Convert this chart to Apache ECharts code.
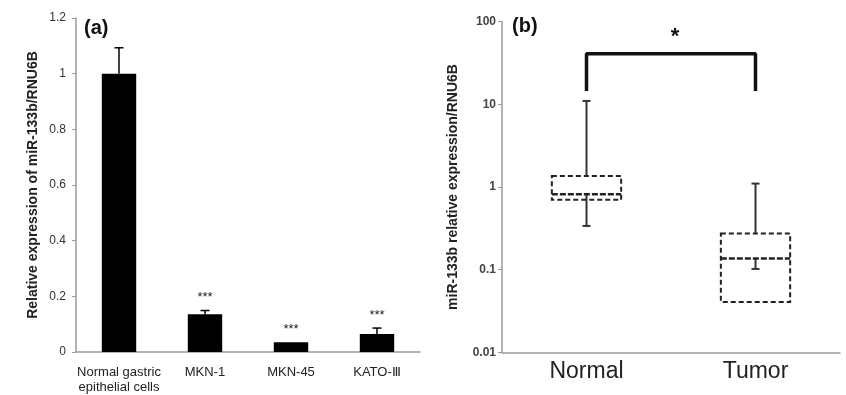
<!DOCTYPE html>
<html>
<head>
<meta charset="utf-8">
<script src="https://cdn.jsdelivr.net/npm/echarts@6/dist/echarts.min.js"></script>
<style>
  html, body { margin: 0; padding: 0; background: #fff; }
  #chart { width: 846px; height: 395px; }
</style>
</head>
<body>
<div id="chart"></div>
<script>
// panel (a): cell lines
const cellLines = ['Normal gastric\nepithelial cells', 'MKN-1', 'MKN-45', 'KATO-Ⅲ'];
const expression = [1.0, 0.136, 0.035, 0.065];
const errors = [0.093, 0.013, 0, 0.021];
const stars = ['', '***', '***', '***'];

// panel (b): tissue, [min, q1, median, q3, max]
const groups = ['Normal', 'Tumor'];
const boxStats = [
    [0.338, 0.70, 0.816, 1.36, 11],
    [0.102, 0.0407, 0.136, 0.273, 1.10]
];
const bracket = [['Normal', 14.5], ['Normal', 41], ['Tumor', 41], ['Tumor', 14.5]];
const bracketStar = 74;

const axisGray = '#9a9a9a';
const textDark = '#222';

const chart = echarts.init(document.getElementById('chart'));

const errorData = expression.map((v, i) => [i, v, errors[i]]);
const boxData = boxStats.map((s, i) => [i].concat(s));

const option = {
    animation: false,
    textStyle: { fontFamily: 'Liberation Sans, Arial, sans-serif' },
    grid: [
        { left: 76, top: 18, width: 344, height: 336 },
        { left: 502, top: 21.7, width: 338, height: 330.6 }
    ],
    xAxis: [
        {
            type: 'category',
            gridIndex: 0,
            data: cellLines,
            axisLine: { lineStyle: { color: axisGray, width: 1.5 } },
            axisTick: { show: false },
            axisLabel: { color: textDark, fontSize: 13, margin: 13, lineHeight: 15, interval: 0 }
        },
        {
            type: 'category',
            gridIndex: 1,
            data: groups,
            axisLine: { lineStyle: { color: axisGray, width: 1.5 } },
            axisTick: { show: false },
            axisLabel: { color: textDark, fontSize: 23, margin: 8 }
        }
    ],
    yAxis: [
        {
            type: 'value',
            gridIndex: 0,
            min: 0,
            max: 1.2,
            interval: 0.2,
            name: 'Relative expression of miR-133b/RNU6B',
            nameLocation: 'middle',
            nameGap: 36,
            nameTextStyle: { fontSize: 14, fontWeight: 'bold', color: textDark },
            axisLine: { show: true, lineStyle: { color: axisGray, width: 1.5 } },
            axisTick: { show: true, length: 4, lineStyle: { color: axisGray } },
            axisLabel: { color: '#333', fontSize: 12, margin: 10 },
            splitLine: { show: false }
        },
        {
            type: 'log',
            gridIndex: 1,
            logBase: 10,
            min: 0.01,
            max: 100,
            name: 'miR-133b relative expression/RNU6B',
            nameLocation: 'middle',
            nameGap: 42,
            nameTextStyle: { fontSize: 14, fontWeight: 'bold', color: textDark },
            axisLine: { show: true, lineStyle: { color: axisGray, width: 1.5 } },
            axisTick: { show: true, length: 4, lineStyle: { color: axisGray } },
            axisLabel: { color: '#444', fontSize: 12, margin: 6, fontWeight: 'bold' },
            splitLine: { show: false }
        }
    ],
    graphic: [
        { type: 'text', left: 84, top: 18, style: { text: '(a)', font: 'bold 20px Liberation Sans, Arial', fill: '#111' } },
        { type: 'text', left: 512, top: 16, style: { text: '(b)', font: 'bold 20px Liberation Sans, Arial', fill: '#111' } }
    ],
    series: [
        {
            type: 'bar',
            xAxisIndex: 0,
            yAxisIndex: 0,
            data: expression,
            barWidth: '40%',
            itemStyle: { color: '#000' }
        },
        {
            // error bars and significance stars
            type: 'custom',
            xAxisIndex: 0,
            yAxisIndex: 0,
            data: errorData,
            z: 3,
            renderItem: function (params, api) {
                const x = api.value(0);
                const v = api.value(1);
                const e = api.value(2);
                const base = api.coord([x, v]);
                const top = api.coord([x, v + e]);
                const children = [];
                if (e > 0) {
                    children.push({
                        type: 'line',
                        shape: { x1: base[0], y1: base[1], x2: top[0], y2: top[1] },
                        style: { stroke: '#000', lineWidth: 1.5 }
                    });
                    children.push({
                        type: 'line',
                        shape: { x1: top[0] - 4.5, y1: top[1], x2: top[0] + 4.5, y2: top[1] },
                        style: { stroke: '#000', lineWidth: 1.5 }
                    });
                }
                const label = stars[params.dataIndex];
                if (label) {
                    children.push({
                        type: 'text',
                        x: top[0],
                        y: top[1] - 13,
                        style: {
                            text: label, fill: '#222', font: '13px Liberation Sans, Arial',
                            align: 'center', verticalAlign: 'middle'
                        }
                    });
                }
                return { type: 'group', children: children };
            }
        },
        {
            // box: dashed Q1-Q3 box, whiskers Q3->max and median->min
            type: 'custom',
            xAxisIndex: 1,
            yAxisIndex: 1,
            data: boxData,
            renderItem: function (params, api) {
                const i = api.value(0);
                const pMin = api.coord([i, api.value(1)]);
                const pQ1 = api.coord([i, api.value(2)]);
                const pMed = api.coord([i, api.value(3)]);
                const pQ3 = api.coord([i, api.value(4)]);
                const pMax = api.coord([i, api.value(5)]);
                const w = api.size([1, 0])[0] * 0.41;
                const x = pMed[0];
                const dash = { stroke: '#222', lineWidth: 2, lineDash: [5, 3], fill: null };
                const solid = { stroke: '#333', lineWidth: 2 };
                const cap = 4;
                return {
                    type: 'group',
                    children: [
                        { type: 'line', shape: { x1: x, y1: pQ3[1], x2: x, y2: pMax[1] }, style: solid },
                        { type: 'line', shape: { x1: x - cap, y1: pMax[1], x2: x + cap, y2: pMax[1] }, style: solid },
                        { type: 'line', shape: { x1: x, y1: pMed[1], x2: x, y2: pMin[1] }, style: solid },
                        { type: 'line', shape: { x1: x - cap, y1: pMin[1], x2: x + cap, y2: pMin[1] }, style: solid },
                        {
                            type: 'rect',
                            shape: { x: x - w / 2, y: pQ3[1], width: w, height: pQ1[1] - pQ3[1] },
                            style: dash
                        },
                        {
                            type: 'line',
                            shape: { x1: x - w / 2, y1: pMed[1], x2: x + w / 2, y2: pMed[1] },
                            style: { stroke: '#222', lineWidth: 2.5, lineDash: [6, 2] }
                        }
                    ]
                };
            }
        },
        {
            type: 'line',
            xAxisIndex: 1,
            yAxisIndex: 1,
            data: bracket,
            symbol: 'none',
            lineStyle: { color: '#111', width: 3.5 }
        },
        {
            type: 'custom',
            xAxisIndex: 1,
            yAxisIndex: 1,
            data: [[0, bracketStar]],
            renderItem: function (params, api) {
                const p0 = api.coord([0, api.value(1)]);
                const p1 = api.coord([1, api.value(1)]);
                return {
                    type: 'text',
                    x: (p0[0] + p1[0]) / 2 + 4,
                    y: p0[1] + 4,
                    style: {
                        text: '*', fill: '#111', font: 'bold 22px Liberation Sans, Arial',
                        align: 'center', verticalAlign: 'middle'
                    }
                };
            }
        }
    ]
};

chart.setOption(option);
</script>
</body>
</html>
